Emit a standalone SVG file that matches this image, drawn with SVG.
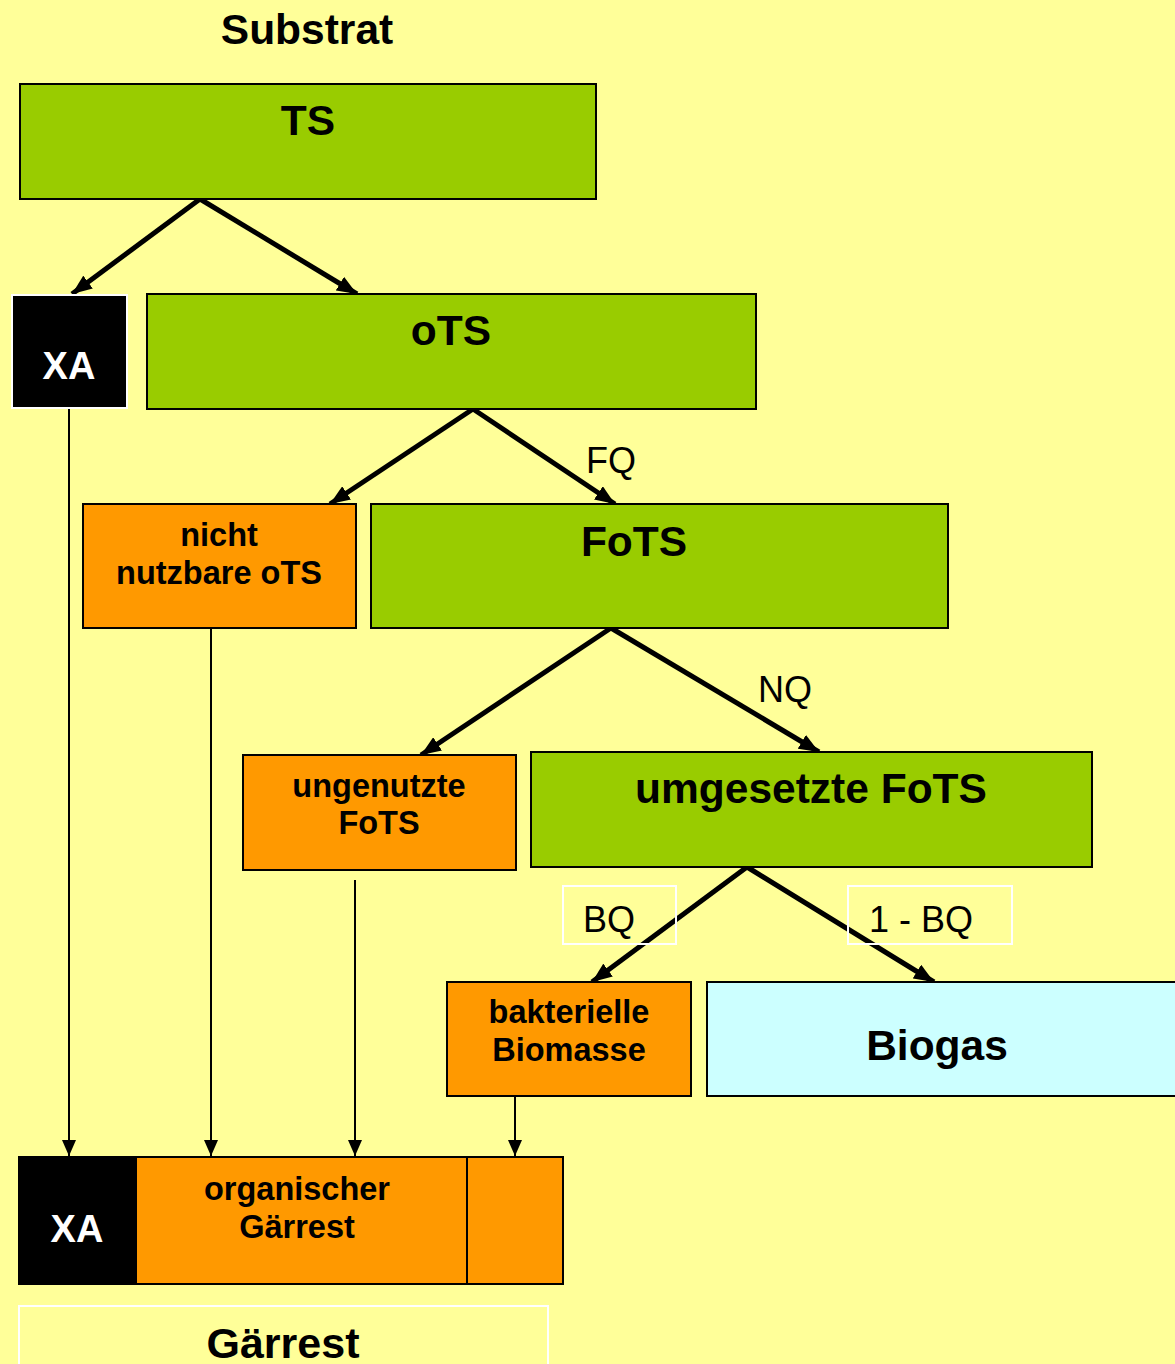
<svg xmlns="http://www.w3.org/2000/svg" width="1175" height="1364" viewBox="0 0 1175 1364">
<defs>
<style>
.bg{fill:#FFFF99}
.g{fill:#99CC00;stroke:#000;stroke-width:2}
.o{fill:#FF9900;stroke:#000;stroke-width:2}
.b{fill:#000;stroke:#fff;stroke-width:2}
.c{fill:#CCFFFF;stroke:#000;stroke-width:2}
.w{fill:none;stroke:#fff;stroke-width:2}
text{font-family:"Liberation Sans",Arial,sans-serif;text-anchor:middle;fill:#000}
.t40{font-size:42.5px;font-weight:bold}
.t31{font-size:32.5px;font-weight:bold}
.tw{fill:#fff}
.lbl{font-size:36px}
.thick{stroke:#000;stroke-width:5;fill:none}
.thin{stroke:#000;stroke-width:2;fill:none}
</style>
<marker id="ah" markerUnits="userSpaceOnUse" viewBox="0 0 20 16" refX="20" refY="8" markerWidth="20" markerHeight="16" orient="auto">
<path d="M0,0 L20,8 L0,16 Z" fill="#000"/>
</marker>
<marker id="as" markerUnits="userSpaceOnUse" viewBox="0 0 16 14" refX="16" refY="7" markerWidth="16" markerHeight="14" orient="auto">
<path d="M0,0 L16,7 L0,14 Z" fill="#000"/>
</marker>
</defs>
<rect class="bg" x="0" y="0" width="1175" height="1364"/>
<text class="t40" x="307" y="44">Substrat</text>

<g id="connectors">
<path class="thick" d="M200,199 L72,294" marker-end="url(#ah)"/>
<path class="thick" d="M200,199 L357,294" marker-end="url(#ah)"/>
<path class="thick" d="M473,409 L330,504" marker-end="url(#ah)"/>
<path class="thick" d="M473,409 L615,504" marker-end="url(#ah)"/>
<path class="thick" d="M611,628 L421,755" marker-end="url(#ah)"/>
<path class="thick" d="M611,628 L819,752" marker-end="url(#ah)"/>
<path class="thick" d="M747,867 L592,982" marker-end="url(#ah)"/>
<path class="thick" d="M747,867 L934,982" marker-end="url(#ah)"/>
<path class="thin" d="M69,408 L69,1156" marker-end="url(#as)"/>
<path class="thin" d="M211,628 L211,1156" marker-end="url(#as)"/>
<path class="thin" d="M355,880 L355,1156" marker-end="url(#as)"/>
<path class="thin" d="M515,1094 L515,1156" marker-end="url(#as)"/>
</g>

<g id="ts"><rect class="g" x="20" y="84" width="576" height="115"/><text class="t40" x="308" y="135">TS</text></g>
<g id="xa-top"><rect class="b" x="12" y="295" width="115" height="113"/><text class="t40 tw" x="69" y="379" style="font-size:38px">XA</text></g>
<g id="ots"><rect class="g" x="147" y="294" width="609" height="115"/><text class="t40" x="451" y="345">oTS</text></g>
<g id="fq"><text class="lbl" x="611" y="473">FQ</text></g>
<g id="nicht"><rect class="o" x="83" y="504" width="273" height="124"/><text class="t31" x="219" y="546">nicht</text><text class="t31" x="219" y="584">nutzbare oTS</text></g>
<g id="fots"><rect class="g" x="371" y="504" width="577" height="124"/><text class="t40" x="634" y="556">FoTS</text></g>
<g id="nq"><text class="lbl" x="785" y="702">NQ</text></g>
<g id="ungenutzte"><rect class="o" x="243" y="755" width="273" height="115"/><text class="t31" x="379" y="797">ungenutzte</text><text class="t31" x="379" y="834">FoTS</text></g>
<g id="umgesetzte"><rect class="g" x="531" y="752" width="561" height="115"/><text class="t40" x="811" y="803">umgesetzte FoTS</text></g>
<g id="bq"><rect class="w" x="563" y="886" width="113" height="58"/><text class="lbl" x="609" y="932">BQ</text></g>
<g id="1bq"><rect class="w" x="848" y="886" width="164" height="58"/><text class="lbl" x="921" y="932">1 - BQ</text></g>
<g id="bakterielle"><rect class="o" x="447" y="982" width="244" height="114"/><text class="t31" x="569" y="1023">bakterielle</text><text class="t31" x="569" y="1061">Biomasse</text></g>
<g id="biogas"><rect class="c" x="707" y="982" width="480" height="114"/><text class="t40" x="937" y="1060">Biogas</text></g>
<g id="gaerrest-bar">
<rect x="19" y="1157" width="117" height="127" fill="#000" stroke="#000" stroke-width="2"/>
<rect class="o" x="136" y="1157" width="331" height="127"/>
<rect class="o" x="467" y="1157" width="96" height="127"/>
<text class="t40 tw" x="77" y="1242" style="font-size:38px">XA</text>
<text class="t31" x="297" y="1200">organischer</text>
<text class="t31" x="297" y="1238">Gärrest</text>
</g>
<g id="gaerrest"><rect class="w" x="19" y="1306" width="529" height="80"/><text class="t40" x="283" y="1358" style="font-size:43px">Gärrest</text></g>
</svg>
